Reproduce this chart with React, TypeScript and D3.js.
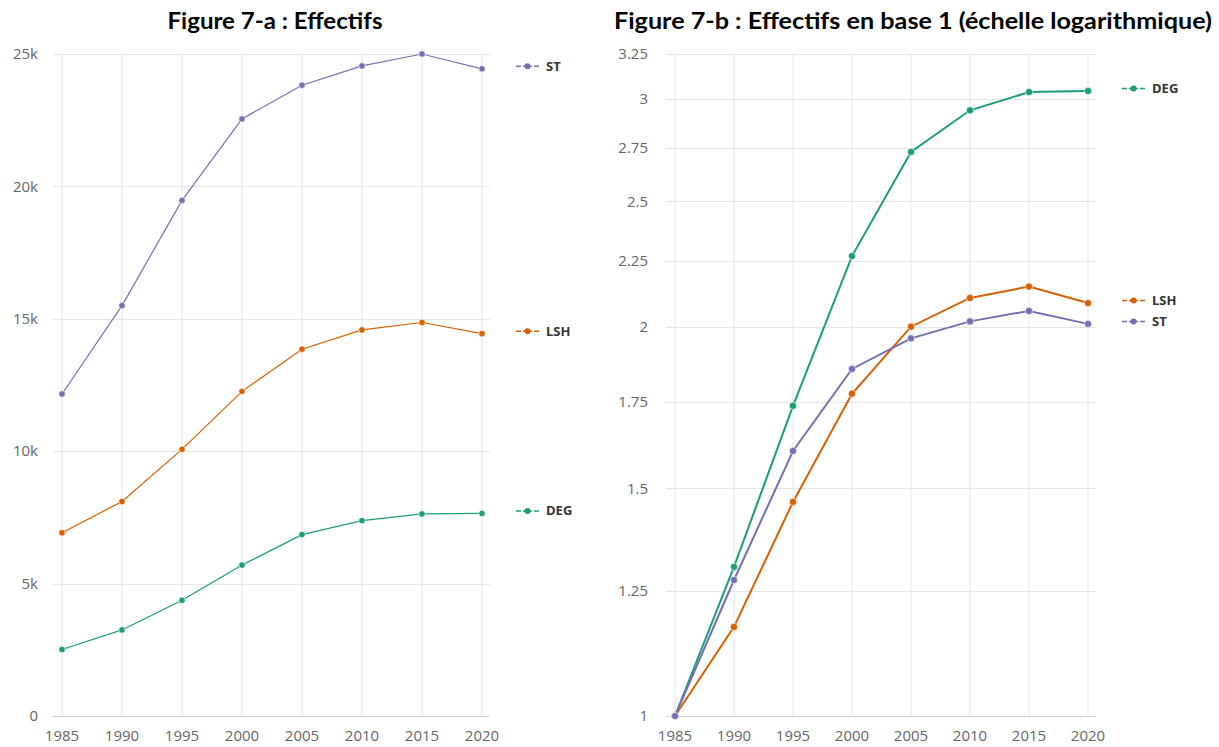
import { useEffect, useRef } from "react"
import * as d3 from "d3"

const years = [1985, 1990, 1995, 2000, 2005, 2010, 2015, 2020]

// Figure 7-a : raw headcounts
const leftST = [12160, 15500, 19470, 22550, 23820, 24550, 25000, 24440]
const leftLSH = [6920, 8100, 10070, 12260, 13850, 14580, 14860, 14440]
const leftDEG = [2510, 3250, 4370, 5700, 6850, 7380, 7630, 7650]
const leftTicks = [0, 5000, 10000, 15000, 20000, 25000]

// Figure 7-b : base 1 in 1985, log scale
const rightDEG = [1, 1.304, 1.737, 2.268, 2.73, 2.94, 3.037, 3.043]
const rightLSH = [1, 1.172, 1.464, 1.775, 2.0, 2.105, 2.148, 2.086]
const rightST = [1, 1.274, 1.603, 1.855, 1.959, 2.019, 2.057, 2.01]
const rightTicks = [1, 1.25, 1.5, 1.75, 2, 2.25, 2.5, 2.75, 3, 3.25]

const colors = { DEG: "#1b9e77", LSH: "#d95f02", ST: "#7570b3" }

const tickFont = "'Open Sans', sans-serif"
const titleFont = "Lato, 'Open Sans', sans-serif"

type Series = { name: keyof typeof colors; values: number[] }

function drawPanel(
  g: d3.Selection<SVGGElement, unknown, null, undefined>,
  opts: {
    x: d3.ScaleLinear<number, number>
    y: d3.ScaleContinuousNumeric<number, number>
    ticks: number[]
    fmt: (v: number) => string
    series: Series[]
    title: string
    titleX: number
    titleW: number
    lineWidth: number
    dotR: number
    labelRight: number
  }
) {
  const { x, y, ticks, fmt, series } = opts
  const [x0, x1] = [x(years[0]) - 9, x(years[years.length - 1]) + 8]
  const [yBottom, yTop] = y.range()

  // vertical grid
  g.append("g")
    .selectAll("line")
    .data(years)
    .join("line")
    .attr("x1", (d) => x(d))
    .attr("x2", (d) => x(d))
    .attr("y1", yTop)
    .attr("y2", yBottom)
    .attr("stroke", "#e4e6ee")
    .attr("stroke-width", 1)

  // horizontal grid
  g.append("g")
    .selectAll("line")
    .data(ticks)
    .join("line")
    .attr("x1", x0)
    .attr("x2", x1)
    .attr("y1", (d) => Math.round(y(d)) + 0.5)
    .attr("y2", (d) => Math.round(y(d)) + 0.5)
    .attr("stroke", (d, i) => (i === 0 ? "#ccd6eb" : "#e6e6e6"))
    .attr("stroke-width", 1)

  // y tick labels
  g.append("g")
    .selectAll("text")
    .data(ticks)
    .join("text")
    .attr("x", opts.labelRight)
    .attr("y", (d) => y(d))
    .attr("dy", "0.35em")
    .attr("text-anchor", "end")
    .attr("font-family", tickFont)
    .attr("font-size", 15)
    .attr("fill", "#666")
    .text(fmt)

  // x tick labels
  g.append("g")
    .selectAll("text")
    .data(years)
    .join("text")
    .attr("x", (d) => x(d))
    .attr("y", yBottom + 25)
    .attr("text-anchor", "middle")
    .attr("font-family", tickFont)
    .attr("font-size", 15)
    .attr("fill", "#666")
    .text((d) => String(d))

  const line = d3
    .line<number>()
    .x((_, i) => x(years[i]))
    .y((d) => y(d))

  series.forEach((s) => {
    const c = colors[s.name]
    g.append("path")
      .datum(s.values)
      .attr("d", line)
      .attr("fill", "none")
      .attr("stroke", c)
      .attr("stroke-width", opts.lineWidth)

    g.append("g")
      .selectAll("circle")
      .data(s.values)
      .join("circle")
      .attr("cx", (_, i) => x(years[i]))
      .attr("cy", (d) => y(d))
      .attr("r", opts.dotR)
      .attr("fill", c)
      .attr("stroke", "#fff")
      .attr("stroke-width", 0.6)

    // end-of-line legend
    const ly = y(s.values[s.values.length - 1]) - 2.5
    const lx = x(years[years.length - 1]) + 34
    const lg = g.append("g").attr("transform", `translate(${lx},${ly})`)
    lg.append("line")
      .attr("x1", 0)
      .attr("x2", 23)
      .attr("stroke", c)
      .attr("stroke-width", 1.5)
      .attr("stroke-dasharray", "5,2,9,2,5")
    lg.append("circle").attr("cx", 11.5).attr("r", 3).attr("fill", c)
    lg.append("text")
      .attr("x", 30)
      .attr("dy", "0.35em")
      .attr("font-family", tickFont)
      .attr("font-size", 13)
      .attr("font-weight", "bold")
      .attr("fill", "#333")
      .text(s.name)
  })

  g.append("text")
    .attr("x", opts.titleX)
    .attr("y", 29)
    .attr("text-anchor", "middle")
    .attr("font-family", titleFont)
    .attr("font-size", 22)
    .attr("font-weight", "bold")
    .attr("fill", "#000")
    .attr("textLength", opts.titleW)
    .attr("lengthAdjust", "spacingAndGlyphs")
    .text(opts.title)
}

export default function App() {
  const svgRef = useRef<SVGSVGElement>(null)

  useEffect(() => {
    if (!svgRef.current) return
    document.body.style.margin = "0"
    const svg = d3.select(svgRef.current)
    svg.selectAll("*").remove()

    const plotTop = 54
    const plotBottom = 716

    const xLeft = d3.scaleLinear().domain([1985, 2020]).range([62, 482])
    const yLeft = d3.scaleLinear().domain([0, 25000]).range([plotBottom, plotTop])
    drawPanel(svg.append("g"), {
      x: xLeft,
      y: yLeft,
      ticks: leftTicks,
      fmt: (v) => (v === 0 ? "0" : `${v / 1000}k`),
      series: [
        { name: "ST", values: leftST },
        { name: "LSH", values: leftLSH },
        { name: "DEG", values: leftDEG },
      ],
      title: "Figure 7-a : Effectifs",
      titleX: 275,
      titleW: 215,
      lineWidth: 1.2,
      dotR: 3.2,
      labelRight: 38,
    })

    const xRight = d3.scaleLinear().domain([1985, 2020]).range([675, 1088])
    const yRight = d3.scaleLog().domain([1, 3.25]).range([plotBottom, plotTop])
    drawPanel(svg.append("g"), {
      x: xRight,
      y: yRight,
      ticks: rightTicks,
      fmt: (v) => String(v),
      series: [
        { name: "DEG", values: rightDEG },
        { name: "LSH", values: rightLSH },
        { name: "ST", values: rightST },
      ],
      title: "Figure 7-b : Effectifs en base 1 (échelle logarithmique)",
      titleX: 913,
      titleW: 598,
      lineWidth: 2,
      dotR: 3.6,
      labelRight: 648,
    })
  }, [])

  return (
    <svg
      ref={svgRef}
      width={1219}
      height={747}
      style={{ display: "block", background: "#fff" }}
    />
  )
}
